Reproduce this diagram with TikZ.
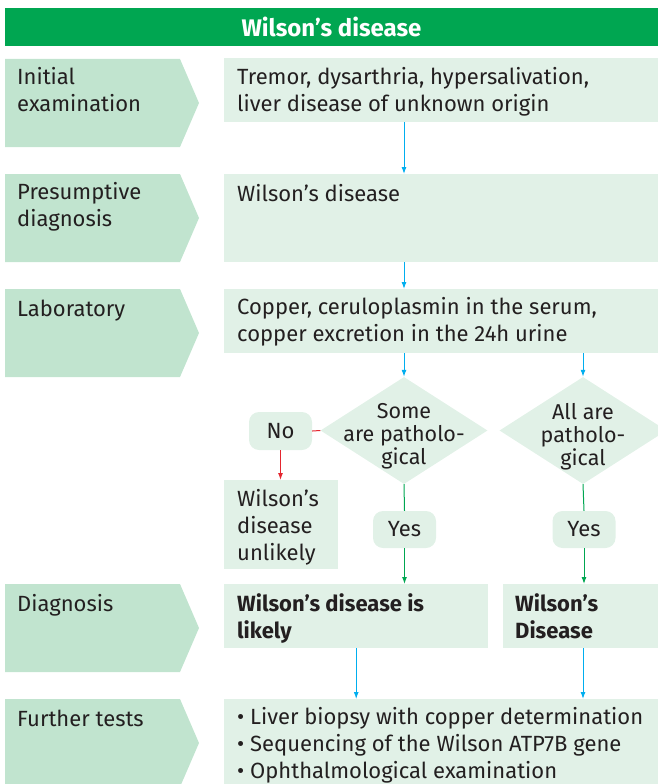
\documentclass[tikz,border=0pt]{standalone}
\usepackage{fontspec}
\setmainfont{Fira Sans}
\usetikzlibrary{arrows.meta,shapes.geometric}

\definecolor{hdgreen}{RGB}{0,166,81}
\definecolor{stagefill}{RGB}{193,228,207}
\definecolor{boxfill}{RGB}{225,241,231}
\definecolor{flowblue}{RGB}{0,174,239}
\definecolor{flowred}{RGB}{228,38,47}
\definecolor{ink}{RGB}{35,31,32}

\tikzset{
  box/.style={fill=boxfill, anchor=north west, inner sep=0pt},
  txt/.style={anchor=north west, align=left, inner sep=0pt, text=ink,
    font=\fontsize{22}{27}\selectfont, execute at begin node=\strut},
  decision/.style={diamond, fill=boxfill, inner sep=0pt,
    minimum width=167pt, minimum height=107pt},
  dtxt/.style={align=center, text=ink, inner sep=0pt, yshift=-6pt,
    font=\fontsize{21.5}{23}\selectfont},
  answer/.style={fill=boxfill, rounded corners=10pt, inner sep=0pt,
    minimum width=63pt, minimum height=38pt, text=ink,
    font=\fontsize{22}{27}\selectfont},
  blarr/.style={draw=flowblue, line width=1pt, -{Latex[length=7pt,width=5pt]}},
  grarr/.style={draw=hdgreen, line width=1pt, -{Latex[length=7pt,width=5pt]}},
  rdarr/.style={draw=flowred, line width=1pt, -{Latex[length=7pt,width=5pt]}},
}

\begin{document}
\begin{tikzpicture}[x=1pt,y=-1pt]
\useasboundingbox (0,0) rectangle (658,784);

% title bar
\node[fill=hdgreen, minimum width=653pt, minimum height=38pt, inner sep=0pt,
  text=white, font=\fontsize{24}{28}\selectfont\bfseries] (title) at (331.5,27) {Wilson’s disease};

% stage chevrons on the left
\foreach \y/\n/\lab in {59/s1/{Initial\\examination}, 174/s2/{Presumptive\\diagnosis},
    289/s3/{Laboratory}, 584/s4/{Diagnosis}, 699/s5/{Further tests}} {
  \fill[stagefill] (5,\y) -- (180,\y) -- (199,\y+44) -- (180,\y+88) -- (5,\y+88) -- cycle;
  \node[txt] (\n) at (17,\y+8.6) {\lab};
}

% boxes
\node[box, minimum width=434pt, minimum height=64pt] (exam) at (224,58) {};
\node[txt] (exam-t) at (237,67.6) {Tremor, dysarthria, hypersalivation,\\liver disease of unknown origin};
\node[box, minimum width=434pt, minimum height=88pt] (presum) at (224,174) {};
\node[txt] (presum-t) at (237,182.6) {Wilson’s disease};
\node[box, minimum width=434pt, minimum height=64pt] (lab) at (224,289) {};
\node[txt] (lab-t) at (237,297.6) {Copper, ceruloplasmin in the serum,\\copper excretion in the 24h urine};

% decisions
\node[decision] (some) at (404,430.5) {};
\node[dtxt] (some-t) at (some) {Some\\are patholo-\\gical};
\node[decision] (all) at (583,430.5) {};
\node[dtxt] (all-t) at (all) {All are\\patholo-\\gical};

\node[answer] (no) at (280.5,431) {No};
\node[box, minimum width=114pt, minimum height=89pt] (unlikely) at (224,480) {};
\node[txt] (unlikely-t) at (237,489.6) {Wilson’s\\disease\\unlikely};
\node[answer, minimum height=37pt] (yes1) at (404.5,529.5) {Yes};
\node[answer, minimum height=37pt] (yes2) at (584,529.5) {Yes};

% diagnosis
\node[box, minimum width=264pt, minimum height=64pt] (likely) at (224,584) {};
\node[txt, font=\fontsize{22}{27}\selectfont\bfseries] (likely-t) at (237,593) {Wilson’s disease is\\likely};
\node[box, minimum width=155pt, minimum height=64pt] (dis) at (503,584) {};
\node[txt, font=\fontsize{22}{27}\selectfont\bfseries] (dis-t) at (515,593) {Wilson’s\\Disease};

% further tests
\node[box, minimum width=434pt, minimum height=90pt] (tests) at (224,699) {};
\node[txt] (tests-t) at (237,707) {• Liver biopsy with copper determination\\• Sequencing of the Wilson ATP7B gene\\• Ophthalmological examination};

% connectors
\draw[blarr] (exam.south -| some) -- (presum.north -| some);
\draw[blarr] (presum.south -| some) -- (lab.north -| some);
\draw[blarr] (lab.south -| some) -- (some.north);
\draw[blarr] (lab.south -| all) -- (all.north);
\draw[flowred, line width=1pt] (some.west) -- (no.east);
\draw[rdarr] (no.south) -- (unlikely.north -| no);
\draw[hdgreen, line width=1pt] (some.south) -- (yes1.north);
\draw[grarr] (yes1.south) -- (likely.north -| yes1);
\draw[hdgreen, line width=1pt] (all.south) -- (yes2.north);
\draw[grarr] (yes2.south) -- (dis.north -| yes2);
\draw[blarr] (likely.south) -- (tests.north -| likely.south);
\draw[blarr] (dis.south -| all) -- (tests.north -| all);
\end{tikzpicture}
\end{document}
